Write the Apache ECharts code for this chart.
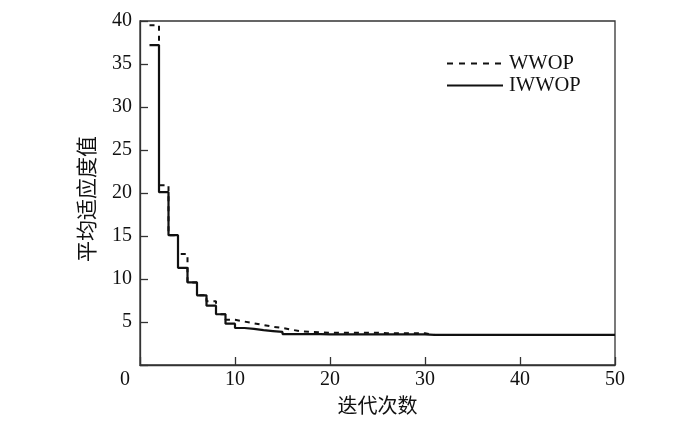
<!DOCTYPE html>
<html>
<head>
<meta charset="utf-8">
<script src="https://cdn.jsdelivr.net/npm/echarts@6/dist/echarts.min.js"></script>
<style>html,body{margin:0;padding:0;background:#fff}#c{width:700px;height:421px}</style>
</head>
<body>
<div id="c"></div>
<script>
var seriesNames = ['WWOP', 'IWWOP'];
var iterations = [1,2,3,4,5,6,7,8,9,10,11,12,13,14,15,16,17,18,19,20,21,22,23,24,25,26,27,28,29,30,31,32,33,34,35,36,37,38,39,40,41,42,43,44,45,46,47,48,49,50];
var wwopValues = [39.5,20.9,15.1,12.9,9.6,8.1,7.4,5.9,5.25,5.05,4.85,4.65,4.45,4.3,4.1,3.9,3.85,3.8,3.75,3.75,3.75,3.75,3.75,3.75,3.7,3.7,3.7,3.7,3.7,3.5,3.5,3.5,3.5,3.5,3.5,3.5,3.5,3.5,3.5,3.5,3.5,3.5,3.5,3.5,3.5,3.5,3.5,3.5,3.5,3.5];
var iwwopValues = [37.2,20.1,15.1,11.3,9.6,8.1,6.9,5.9,4.8,4.3,4.2,4.05,3.95,3.85,3.6,3.6,3.6,3.6,3.55,3.55,3.55,3.55,3.55,3.55,3.55,3.55,3.55,3.55,3.55,3.5,3.5,3.5,3.5,3.5,3.5,3.5,3.5,3.5,3.5,3.5,3.5,3.5,3.5,3.5,3.5,3.5,3.5,3.5,3.5,3.5];
var xTitle = '迭代次数';
var yTitle = '平均适应度值';

function pairs(xs, ys) { return xs.map(function (x, i) { return [x, ys[i]]; }); }

var serif = '"Liberation Serif", "Times New Roman", serif';
var cjk = '"Noto Sans CJK SC", sans-serif';
var chart = echarts.init(document.getElementById('c'));
chart.setOption({
  animation: false,
  backgroundColor: '#fff',
  grid: { left: 140, right: 85, top: 21, bottom: 56, show: true, borderColor: '#333', borderWidth: 1.3, backgroundColor: 'transparent' },
  legend: {
    orient: 'vertical', left: 446, top: 53, padding: 0,
    itemWidth: 56, itemHeight: 14, itemGap: 1,
    itemStyle: { opacity: 0 },
    lineStyle: { width: 2 },
    textStyle: { fontFamily: serif, fontSize: 20.5, lineHeight: 20, color: '#111', padding: [0, 0, 0, 1] },
    data: [
      { name: seriesNames[0], lineStyle: { type: [6, 6], width: 2 } },
      { name: seriesNames[1] }
    ]
  },
  xAxis: {
    type: 'value', min: 0, max: 50, interval: 10,
    name: xTitle, nameLocation: 'middle', nameGap: 30,
    nameTextStyle: { fontFamily: cjk, fontSize: 20, color: '#111' },
    axisLine: { lineStyle: { color: '#333', width: 1.3 } },
    axisTick: { inside: true, length: 8, lineStyle: { color: '#333', width: 1.3 } },
    axisLabel: {
      margin: 5, fontFamily: serif, fontSize: 20, color: '#111',
      formatter: function (v) { return v === 0 ? '{z|0}' : String(v); },
      rich: { z: { fontFamily: serif, fontSize: 20, color: '#111', padding: [0, 30, 0, 0] } }
    },
    splitLine: { show: false }
  },
  yAxis: {
    type: 'value', min: 0, max: 40, interval: 5,
    name: yTitle, nameLocation: 'middle', nameGap: 43,
    nameTextStyle: { fontFamily: cjk, fontSize: 21, color: '#111', padding: [0, 12, 0, 0] },
    axisLine: { lineStyle: { color: '#333', width: 1.3 } },
    axisTick: { inside: true, length: 8, lineStyle: { color: '#333', width: 1.3 } },
    axisLabel: {
      margin: 8, fontFamily: serif, fontSize: 20, color: '#111',
      formatter: function (v) { return v === 0 ? '' : String(v); }
    },
    splitLine: { show: false }
  },
  series: [
    {
      name: seriesNames[0], type: 'line', step: 'end', symbol: 'none',
      lineStyle: { color: '#111', width: 2, type: [5, 5] },
      itemStyle: { color: '#111' },
      data: pairs(iterations, wwopValues), z: 3
    },
    {
      name: seriesNames[1], type: 'line', step: 'end', symbol: 'none',
      lineStyle: { color: '#111', width: 2.2, type: 'solid' },
      itemStyle: { color: '#111' },
      data: pairs(iterations, iwwopValues), z: 2
    }
  ]
});
</script>
</body>
</html>
